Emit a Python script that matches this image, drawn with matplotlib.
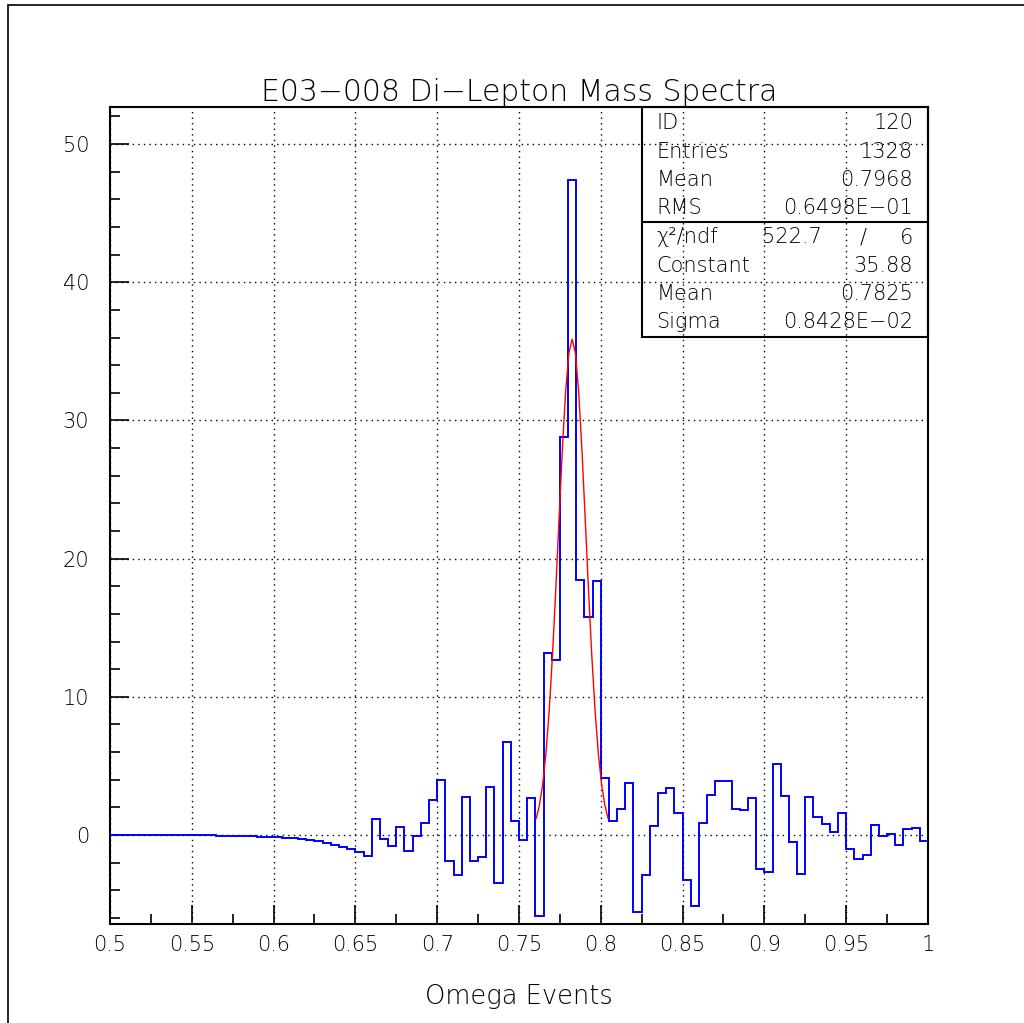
import numpy as np
import matplotlib
matplotlib.use('Agg')
import matplotlib.pyplot as plt
from matplotlib.patches import Rectangle
from matplotlib.ticker import MultipleLocator

plt.rcParams['font.family'] = ['DejaVu Sans']
plt.rcParams['font.weight'] = 'light'
plt.rcParams['axes.titleweight'] = 'light'
plt.rcParams['axes.labelweight'] = 'light'

# histogram contents, 100 bins of 0.005 from 0.5 to 1.0
counts = [
    0.0, 0.0, 0.0, 0.0, 0.0, -0.01, -0.01, -0.01, -0.01, -0.02,
    -0.02, -0.03, -0.03, -0.04, -0.05, -0.06, -0.07, -0.09, -0.11, -0.13,
    -0.16, -0.20, -0.24, -0.30, -0.37, -0.46, -0.58, -0.74, -0.90, -1.05,
    -1.26, -1.52, 1.13, -0.29, -0.80, 0.60, -1.13, -0.05, 0.84, 2.53,
    3.96, -1.88, -2.92, 2.73, -1.88, -1.62, 3.50, -3.45, 6.71, 1.04,
    -0.34, 2.65, -5.88, 13.17, 12.66, 28.8, 47.4, 18.45, 15.77, 18.38,
    4.10, 1.01, 1.88, 3.74, -5.55, -2.87, 0.65, 3.06, 3.38, 1.57,
    -3.28, -5.14, 0.89, 2.92, 3.91, 3.91, 1.86, 1.81, 2.65, -2.48,
    -2.68, 5.14, 2.85, -0.48, -2.85, 2.75, 1.28, 0.80, 0.19, 1.62,
    -1.01, -1.71, -1.47, 0.75, -0.05, 0.10, -0.72, 0.41, 0.53, -0.41,
]
x_lo, x_hi = 0.5, 1.0

# gaussian fit result
fit_const = 35.88
fit_mean = 0.7825
fit_sigma = 0.8428e-02
fit_range = (0.7605, 0.8045)

stats_rows = [
    ('ID', '', '120'),
    ('Entries', '', '1328'),
    ('Mean', '', '0.7968'),
    ('RMS', '', '0.6498E\u221201'),
    ('\u03c7\u00b2/ndf', '522.7', '/     6'),
    ('Constant', '', '35.88'),
    ('Mean', '', '0.7825'),
    ('Sigma', '', '0.8428E\u221202'),
]

fig = plt.figure(figsize=(10.24, 10.23), dpi=100)
ax = fig.add_axes([0.1074, 0.0968, 0.7988, 0.7986])

edges = np.linspace(x_lo, x_hi, len(counts) + 1)
ax.stairs(counts, edges, baseline=None, color='#0000ff', lw=1.4, zorder=3)

xf = np.arange(fit_range[0], fit_range[1] + 1e-9, 0.002)
yf = fit_const * np.exp(-0.5 * ((xf - fit_mean) / fit_sigma) ** 2)
ax.plot(xf, yf, color='#ff0000', lw=1.0, zorder=4)

ax.set_xlim(x_lo, x_hi)
ax.set_ylim(-6.44, 52.68)

ax.xaxis.set_major_locator(MultipleLocator(0.05))
ax.xaxis.set_minor_locator(MultipleLocator(0.025))
ax.yaxis.set_major_locator(MultipleLocator(10))
ax.yaxis.set_minor_locator(MultipleLocator(2))
xt = np.linspace(0.5, 1.0, 11)
ax.set_xticks(xt)
ax.set_xticklabels(['0.5', '0.55', '0.6', '0.65', '0.7', '0.75', '0.8',
                    '0.85', '0.9', '0.95', '1'])
ax.tick_params(which='both', direction='in', top=False, right=False,
               labelsize=15, width=1.2, labelcolor='black')
ax.tick_params(which='major', length=14)
ax.tick_params(which='minor', length=7)
ax.tick_params(axis='x', pad=8)
ax.tick_params(axis='y', pad=15)
for s in ax.spines.values():
    s.set_linewidth(1.5)

ax.grid(True, which='major', color='black', linestyle=(0, (1, 3)), lw=1.0)

ax.set_title('E03\u2212008 Di\u2212Lepton Mass Spectra', fontsize=21.5, pad=1)
ax.set_xlabel('Omega Events', fontsize=18.5, labelpad=21)

# statistics box
bx0, by0 = 0.650, 0.7185
ax.add_patch(Rectangle((bx0, by0), 1 - bx0, 1 - by0, transform=ax.transAxes,
                       fill=False, edgecolor='black', lw=1.5, zorder=5,
                       clip_on=False))
ax.plot([bx0, 1.0], [0.859, 0.859], transform=ax.transAxes, color='black',
        lw=1.5, zorder=5, clip_on=False)
row_px = [123, 152, 180, 208, 237, 266, 294, 322]
for (name, mid, val), py in zip(stats_rows, row_px):
    yy = (924 - py) / 817
    ax.text(0.668, yy, name, transform=ax.transAxes, fontsize=15,
            va='center', ha='left', zorder=6)
    if mid:
        ax.text(0.797, yy, mid, transform=ax.transAxes, fontsize=15,
                va='center', ha='left', zorder=6)
    ax.text(0.982, yy, val, transform=ax.transAxes, fontsize=15,
            va='center', ha='right', zorder=6)

# outer frame
fig.add_artist(Rectangle((8 / 1024, -0.01), 1.02, 1 - 5 / 1023 + 0.01,
                         transform=fig.transFigure, fill=False,
                         edgecolor='black', lw=1.2))

fig.savefig('out.png', dpi=100)
